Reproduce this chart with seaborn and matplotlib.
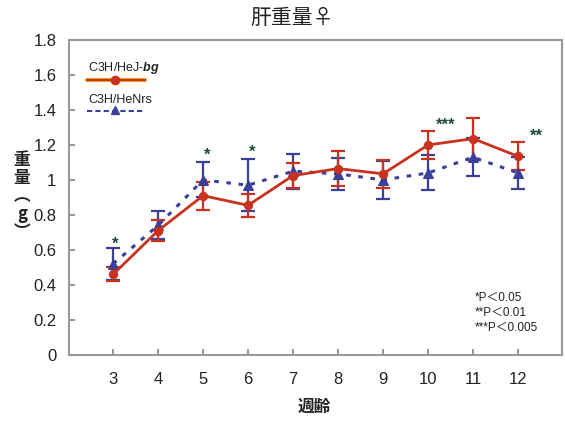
import numpy as np
import pandas as pd
import matplotlib
matplotlib.use("Agg")
import matplotlib.pyplot as plt
import seaborn as sns

weeks = [3, 4, 5, 6, 7, 8, 9, 10, 11, 12]
bg_mean = [0.46, 0.71, 0.91, 0.855, 1.025, 1.065, 1.035, 1.20, 1.236, 1.135]
bg_sd = [0.04, 0.06, 0.08, 0.065, 0.07, 0.10, 0.08, 0.08, 0.12, 0.08]
nrs_mean = [0.52, 0.74, 1.00, 0.97, 1.05, 1.035, 1.00, 1.04, 1.13, 1.04]
nrs_sd = [0.09, 0.08, 0.10, 0.15, 0.10, 0.09, 0.11, 0.10, 0.11, 0.09]
strains = ["C3H/HeJ-bg", "C3H/HeNrs"]

sig_x = [3.05, 5.1, 6.1, 10.4, 12.4]
sig_y = [0.63, 1.14, 1.16, 1.31, 1.25]
sig_text = ["*", "*", "*", "***", "**"]

yticks = [0, 0.2, 0.4, 0.6, 0.8, 1.0, 1.2, 1.4, 1.6, 1.8]
ytick_labels = ["0", "0.2", "0.4", "0.6", "0.8", "1", "1.2", "1.4", "1.6", "1.8"]

RED = "#c8321e"
BLUE = "#3a3f9a"
STAR = "#1d4a3c"

sns.set_theme(style="white")
plt.rcParams["font.family"] = ["Liberation Sans", "Noto Sans CJK JP", "DejaVu Sans"]
plt.rcParams["mathtext.fontset"] = "custom"
plt.rcParams["mathtext.it"] = "Liberation Sans:italic:bold"
plt.rcParams["mathtext.rm"] = "Liberation Sans"

df = pd.DataFrame({
    "week": weeks * 2,
    "weight": bg_mean + nrs_mean,
    "strain": [strains[0]] * len(weeks) + [strains[1]] * len(weeks),
})

fig = plt.figure(figsize=(5.65, 4.21), dpi=100)
ax = fig.add_axes([0.122, 0.157, 0.873, 0.748])

# error bars
ax.errorbar(weeks, nrs_mean, yerr=nrs_sd, fmt="none", ecolor=BLUE, elinewidth=1.6,
            capsize=5, capthick=1.6, zorder=2)
ax.errorbar(weeks, bg_mean, yerr=bg_sd, fmt="none", ecolor=RED, elinewidth=1.6,
            capsize=5, capthick=1.6, zorder=3)

sns.lineplot(data=df[df.strain == strains[1]], x="week", y="weight", ax=ax,
             color=BLUE, linestyle=(0, (1.5, 2.5)), linewidth=2.2, marker="^",
             markersize=7, markeredgecolor=BLUE, legend=False, zorder=4)
sns.lineplot(data=df[df.strain == strains[0]], x="week", y="weight", ax=ax,
             color=RED, linewidth=2.0, marker="o", markersize=6,
             markeredgecolor=RED, legend=False, zorder=5)

for x, y, t in zip(sig_x, sig_y, sig_text):
    ax.text(x, y, t, color=STAR, fontsize=12, ha="center", va="center",
            fontweight="bold")

ax.set_xlim(2.02, 12.98)
ax.set_ylim(0, 1.8)
ax.set_xticks(weeks)
ax.set_xticklabels([str(w) for w in weeks], fontsize=12)
ax.set_yticks(yticks)
ax.set_yticklabels(ytick_labels, fontsize=12)
ax.tick_params(axis="both", direction="in", length=4, color="#888888", pad=9,
               labelcolor="#222222")
ax.tick_params(axis="x", pad=12)
ax.tick_params(left=True, bottom=True)
for s in ax.spines.values():
    s.set_color("#999999")
    s.set_linewidth(1.5)
ax.set_xlabel("")
ax.set_ylabel("")

# legend (text above sample line)
ax.text(0.039, 0.911, "C3H/HeJ-$bg$", transform=ax.transAxes, fontsize=9,
        ha="left", va="center", color="#222222")
ax.plot([0.036, 0.154], [0.873, 0.873], transform=ax.transAxes, color="#e0b020",
        linewidth=3.0)
ax.plot([0.036, 0.154], [0.873, 0.873], transform=ax.transAxes, color=RED,
        linewidth=1.5)
ax.plot([0.093], [0.873], transform=ax.transAxes, marker="o", color=RED,
        markersize=6)
ax.text(0.039, 0.81, "C3H/HeNrs", transform=ax.transAxes, fontsize=9,
        ha="left", va="center", color="#222222")
ax.plot([0.036, 0.154], [0.775, 0.775], transform=ax.transAxes, color=BLUE,
        linewidth=1.5, linestyle=(0, (2.5, 1.5)))
ax.plot([0.093], [0.779], transform=ax.transAxes, marker="^", color=BLUE,
        markersize=6)

# p-value notes
for i, t in enumerate(["*P＜0.05", "**P＜0.01", "***P＜0.005"]):
    ax.text(0.823, 0.181 - i * 0.047, t, transform=ax.transAxes,
            fontsize=8.5, ha="left", va="center", color="#222222",
            family=["Liberation Sans", "Noto Sans CJK JP"])

fig.text(0.517, 0.958, "肝重量♀", fontsize=15, ha="center", va="center",
         family=["Noto Sans CJK JP", "DejaVu Sans"], color="#222222")
fig.text(0.557, 0.033, "週齢", fontsize=12, ha="center", va="center",
         family=["Noto Sans CJK JP"], fontweight="bold", color="#222222")
fig.text(0.039, 0.535, "重\n量\n︵\ng\n︶", fontsize=12, ha="center",
         va="center", linespacing=1.0, family=["Noto Sans CJK JP"],
         fontweight="bold", color="#222222")

fig.savefig("out.png", dpi=100)
